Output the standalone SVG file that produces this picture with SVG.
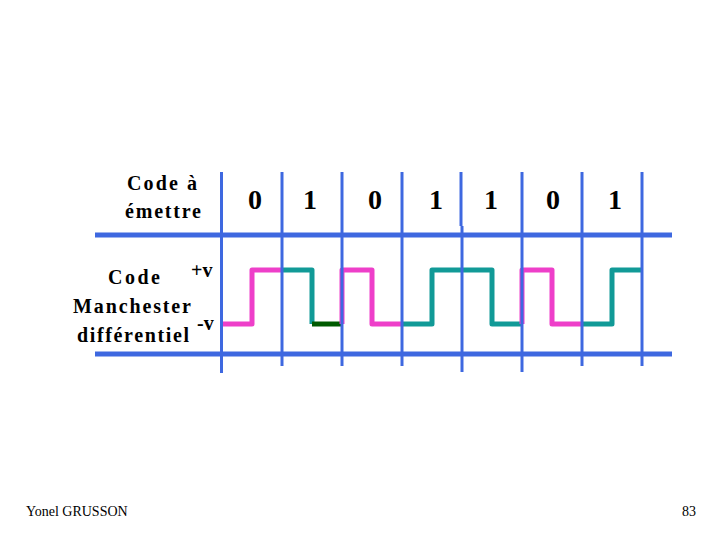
<svg xmlns="http://www.w3.org/2000/svg" width="720" height="540" viewBox="0 0 720 540">
<style>
text{font-family:'Liberation Serif','Times New Roman','DejaVu Serif',serif}
.lbl{font-weight:bold;font-size:20px;fill:#000}
.bit{font-weight:bold;font-size:28px;fill:#000;text-anchor:middle}
.foot{font-size:14px;fill:#000}
.sig{fill:none;stroke-width:5;stroke-linejoin:round;stroke-linecap:butt}
.pink{stroke:#EE3FC9}
.teal{stroke:#119A97}
.dg{stroke:#005A00}
.grid line{stroke:#3E68E0}
.h{stroke-width:5}
.v{stroke-width:3}
</style>
<rect width="720" height="540" fill="#fff"/>
<g id="labels">
<text class="lbl" x="127" y="190" textLength="70" lengthAdjust="spacing">Code à</text>
<text class="lbl" x="125" y="218" textLength="76" lengthAdjust="spacing">émettre</text>
<text class="lbl" x="108" y="284" textLength="52" lengthAdjust="spacing">Code</text>
<text class="lbl" x="191" y="277" font-size="22">+v</text>
<text class="lbl" x="73" y="313" textLength="118" lengthAdjust="spacing">Manchester</text>
<text class="lbl" x="197" y="330" font-size="22">-v</text>
<text class="lbl" x="77" y="342" textLength="112" lengthAdjust="spacing">différentiel</text>
</g>
<g id="bits">
<text class="bit" x="255" y="209">0</text>
<text class="bit" x="310" y="209">1</text>
<text class="bit" x="375" y="209">0</text>
<text class="bit" x="436" y="209">1</text>
<text class="bit" x="491" y="209">1</text>
<text class="bit" x="553" y="209">0</text>
<text class="bit" x="615" y="209">1</text>
</g>
<g id="signal">
<path class="sig pink" d="M222,324 H252 V270 H282"/>
<path class="sig teal" d="M282,270 H312 V324"/>
<path class="sig dg" d="M312,324 H342"/>
<path class="sig pink" d="M342,324 V270 H372 V324 H402"/>
<path class="sig teal" d="M402,324 H432 V270 H492 V324 H522"/>
<path class="sig pink" d="M522,324 V270 H552 V324 H582"/>
<path class="sig teal" d="M582,324 H612 V270 H642"/>
</g>
<g id="connectors" class="grid">
<line class="h" x1="95" y1="235" x2="672" y2="235"/>
<line class="h" x1="95" y1="354" x2="672" y2="354"/>
<line class="v" x1="221.5" y1="172" x2="221.5" y2="373"/>
<line class="v" x1="282" y1="172" x2="282" y2="366"/>
<line class="v" x1="342" y1="172" x2="342" y2="366"/>
<line class="v" x1="402" y1="172" x2="402" y2="366"/>
<line class="v" x1="461" y1="172" x2="461" y2="226"/>
<line class="v" x1="462" y1="226" x2="462" y2="372"/>
<line class="v" x1="522" y1="172" x2="522" y2="372"/>
<line class="v" x1="582" y1="172" x2="582" y2="366"/>
<line class="v" x1="642" y1="172" x2="642" y2="366"/>
</g>
<g id="footer">
<text class="foot" x="26" y="516">Yonel GRUSSON</text>
<text class="foot" x="696" y="516" text-anchor="end">83</text>
</g>
</svg>
